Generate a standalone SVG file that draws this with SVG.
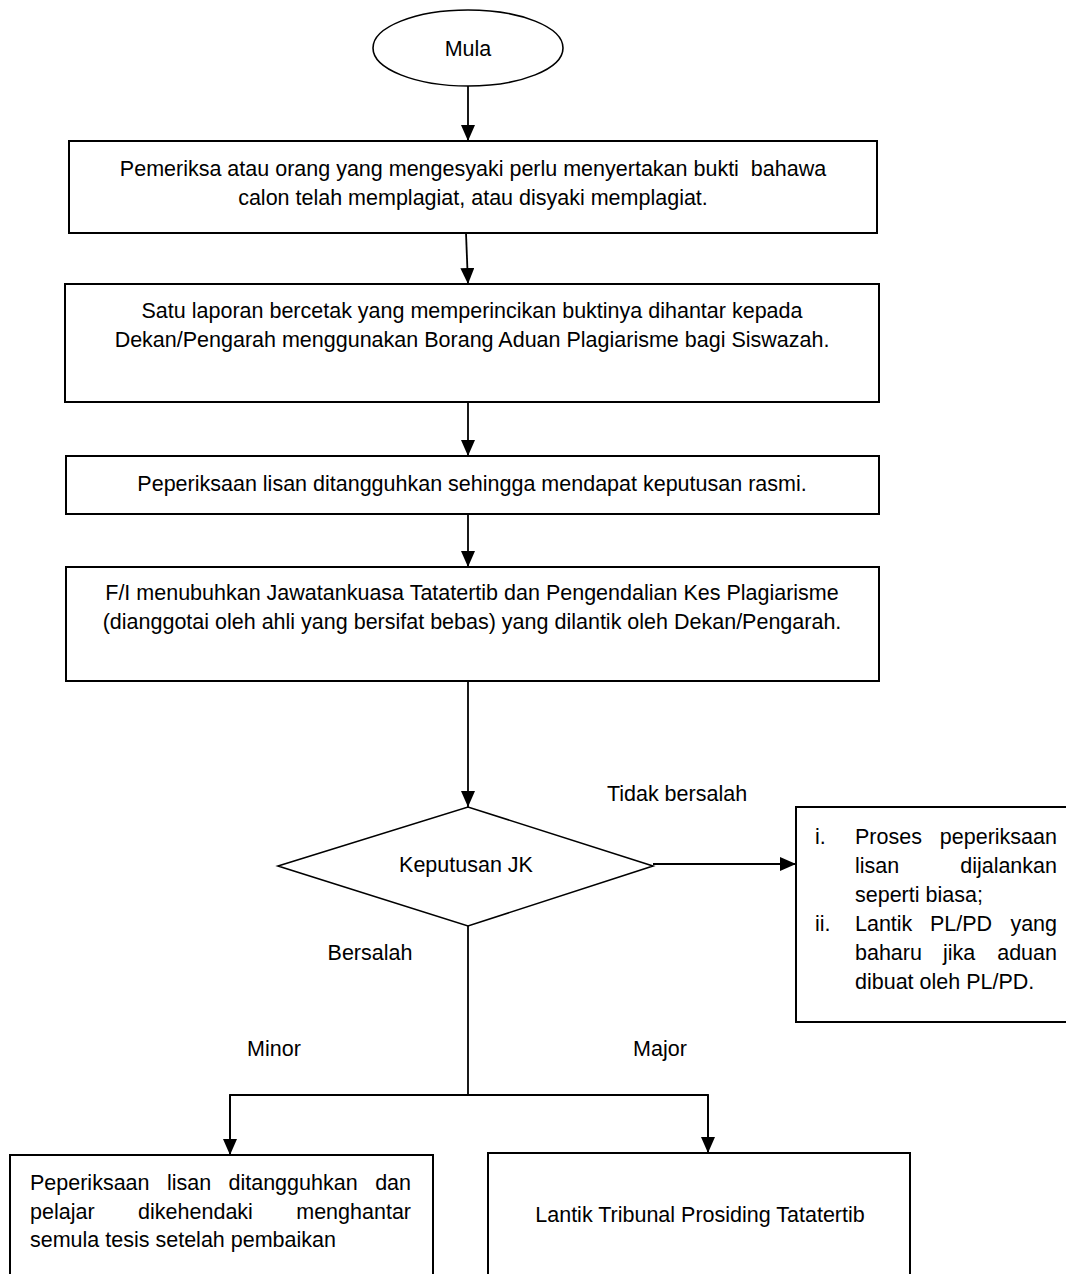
<svg xmlns="http://www.w3.org/2000/svg" width="1066" height="1274" viewBox="0 0 1066 1274">
<style>
  .shape { fill: #fff; stroke: #000; stroke-width: 2; }
  .thin { fill: #fff; stroke: #000; stroke-width: 1.6; }
  .conn { fill: none; stroke: #000; stroke-width: 1.8; }
  text { font-family: "Liberation Sans", Arial, sans-serif; font-size: 21.5px; fill: #000; }
  .c { text-anchor: middle; }
  .e { text-anchor: end; }
</style>
<defs>
  <marker id="arr" markerUnits="userSpaceOnUse" markerWidth="16" markerHeight="14" refX="16" refY="7" orient="auto">
    <path d="M0,0 L16,7 L0,14 z" fill="#000"/>
  </marker>
</defs>
<rect width="1066" height="1274" fill="#fff"/>

<g id="connectors">
  <line class="conn" x1="468" y1="86" x2="468" y2="141" marker-end="url(#arr)"/>
  <line class="conn" x1="466" y1="233" x2="468" y2="284" marker-end="url(#arr)"/>
  <line class="conn" x1="468" y1="402" x2="468" y2="456" marker-end="url(#arr)"/>
  <line class="conn" x1="468" y1="512" x2="468" y2="567" marker-end="url(#arr)"/>
  <line class="conn" x1="468" y1="681" x2="468" y2="807" marker-end="url(#arr)"/>
  <line class="conn" x1="653" y1="864" x2="796" y2="864" stroke-width="2.4" marker-end="url(#arr)"/>
  <polyline class="conn" points="468,926 468,1095"/>
  <polyline class="conn" points="230,1155 230,1095 708,1095 708,1153"/>
  <line class="conn" x1="230" y1="1095" x2="230" y2="1155" marker-end="url(#arr)"/>
  <line class="conn" x1="708" y1="1095" x2="708" y2="1153" marker-end="url(#arr)"/>
</g>

<g id="labels">
  <text class="c" x="677" y="801">Tidak bersalah</text>
  <text class="c" x="370" y="960">Bersalah</text>
  <text class="c" x="274" y="1056">Minor</text>
  <text class="c" x="660" y="1056">Major</text>
</g>

<g id="mula">
  <ellipse class="thin" cx="468" cy="48" rx="95" ry="38"/>
  <text class="c" x="468" y="56">Mula</text>
</g>

<g id="box1">
  <rect class="shape" x="69" y="141" width="808" height="92"/>
  <text class="c" x="473" y="176" xml:space="preserve">Pemeriksa atau orang yang mengesyaki perlu menyertakan bukti  bahawa</text>
  <text class="c" x="473" y="204.5">calon telah memplagiat, atau disyaki memplagiat.</text>
</g>

<g id="box2">
  <rect class="shape" x="65" y="284" width="814" height="118"/>
  <text class="c" x="472" y="318">Satu laporan bercetak yang memperincikan buktinya dihantar kepada</text>
  <text class="c" x="472" y="346.5">Dekan/Pengarah menggunakan Borang Aduan Plagiarisme bagi Siswazah.</text>
</g>

<g id="box3">
  <rect class="shape" x="66" y="456" width="813" height="58"/>
  <text class="c" x="472" y="491">Peperiksaan lisan ditangguhkan sehingga mendapat keputusan rasmi.</text>
</g>

<g id="box4">
  <rect class="shape" x="66" y="567" width="813" height="114"/>
  <text class="c" x="472" y="600">F/I menubuhkan Jawatankuasa Tatatertib dan Pengendalian Kes Plagiarisme</text>
  <text class="c" x="472" y="628.5">(dianggotai oleh ahli yang bersifat bebas) yang dilantik oleh Dekan/Pengarah.</text>
</g>

<g id="decision">
  <polygon class="thin" points="278,866 468,807 653,866 468,926"/>
  <text class="c" x="466" y="872">Keputusan JK</text>
</g>

<g id="tidak-bersalah-box">
  <rect class="shape" x="796" y="807" width="290" height="215"/>
  <text x="815" y="844">i.</text>
  <text x="855" y="844">Proses</text>
  <text class="e" x="1057" y="844">peperiksaan</text>
  <text x="855" y="873">lisan</text>
  <text class="e" x="1057" y="873">dijalankan</text>
  <text x="855" y="902">seperti biasa;</text>
  <text x="815" y="931">ii.</text>
  <text x="855" y="931">Lantik</text>
  <text x="930" y="931">PL/PD</text>
  <text class="e" x="1057" y="931">yang</text>
  <text x="855" y="960">baharu</text>
  <text x="943" y="960">jika</text>
  <text class="e" x="1057" y="960">aduan</text>
  <text x="855" y="989">dibuat oleh PL/PD.</text>
</g>

<g id="minor-box">
  <rect class="shape" x="10" y="1155" width="423" height="130"/>
  <text x="30" y="1190">Peperiksaan</text>
  <text x="167" y="1190">lisan</text>
  <text x="228.5" y="1190">ditangguhkan</text>
  <text class="e" x="411" y="1190">dan</text>
  <text x="30" y="1218.5">pelajar</text>
  <text class="c" x="195.5" y="1218.5">dikehendaki</text>
  <text class="e" x="411" y="1218.5">menghantar</text>
  <text x="30" y="1247">semula tesis setelah pembaikan</text>
</g>

<g id="major-box">
  <rect class="shape" x="488" y="1153" width="422" height="130"/>
  <text class="c" x="700" y="1222">Lantik Tribunal Prosiding Tatatertib</text>
</g>
</svg>
